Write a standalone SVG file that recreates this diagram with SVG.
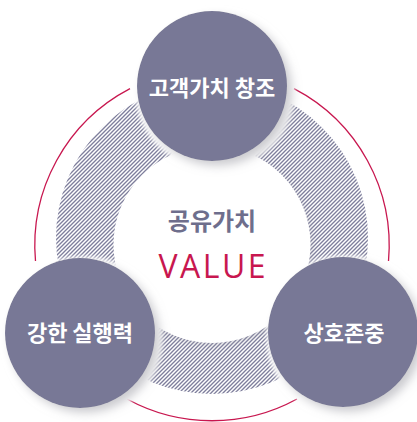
<svg xmlns="http://www.w3.org/2000/svg" width="417" height="422" viewBox="0 0 417 422">
  <defs>
    <pattern id="hatch" patternUnits="userSpaceOnUse" width="4" height="4">
      <path d="M-1,1 L1,-1 M0,4 L4,0 M3,5 L5,3" stroke="#7e7e9c" stroke-width="1.35"/>
    </pattern>
    <filter id="shadow" x="-30%" y="-30%" width="160%" height="160%">
      <feMorphology in="SourceAlpha" operator="dilate" radius="4" result="dil"/>
      <feOffset in="dil" dx="3" dy="3" result="dilOff"/>
      <feGaussianBlur in="dilOff" stdDeviation="2" result="dilBlur"/>
      <feFlood flood-color="#ffffff"/>
      <feComposite in2="dilBlur" operator="in" result="halo"/>
      <feOffset in="SourceAlpha" dx="5" dy="5" result="off"/>
      <feGaussianBlur in="off" stdDeviation="5" result="blur"/>
      <feFlood flood-color="#9a9aa4" flood-opacity="0.6"/>
      <feComposite in2="blur" operator="in" result="sh"/>
      <feMerge>
        <feMergeNode in="halo"/>
        <feMergeNode in="sh"/>
        <feMergeNode in="SourceGraphic"/>
      </feMerge>
    </filter>
    <filter id="softshadow" x="-20%" y="-20%" width="140%" height="140%">
      <feOffset in="SourceAlpha" dx="2" dy="3" result="off"/>
      <feGaussianBlur in="off" stdDeviation="3" result="blur"/>
      <feFlood flood-color="#a0a0aa" flood-opacity="0.3"/>
      <feComposite in2="blur" operator="in" result="sh"/>
      <feMerge>
        <feMergeNode in="sh"/>
        <feMergeNode in="SourceGraphic"/>
      </feMerge>
    </filter>
  </defs>
  <style>
    .ring { fill: none; stroke: #c8174f; stroke-width: 1.3; }
    .node { fill: #787896; }
    .label { font-family: "Noto Sans CJK KR", "Noto Sans", sans-serif; font-weight: 700; font-size: 22px; fill: #ffffff; text-anchor: middle; }
    .center-title { font-family: "Noto Sans CJK KR", "Noto Sans", sans-serif; font-weight: 700; font-size: 24px; fill: #6e6e8c; text-anchor: middle; }
    .value { font-family: "Open Sans", "Noto Sans", sans-serif; font-weight: 400; font-size: 32px; fill: #c8174f; text-anchor: middle; }
  </style>
  <rect width="417" height="422" fill="#ffffff"/>

  <g id="connectors">
    <path class="ring" d="M294,88.6 A177,177 0 0 1 388.5,261"/>
    <path class="ring" d="M297,399 A177,177 0 0 1 127,399"/>
    <path class="ring" d="M35.5,261 A177,177 0 0 1 130,88.6"/>
  </g>

  <g id="hatch-ring">
    <circle cx="212" cy="238" r="156" fill="url(#hatch)"/>
  </g>

  <g id="center">
    <circle cx="212" cy="244.5" r="98.5" fill="#ffffff" filter="url(#softshadow)"/>
    <text class="center-title" x="212" y="230">공유가치</text>
    <text class="value" x="212" y="278" textLength="107" lengthAdjust="spacing">VALUE</text>
  </g>

  <g id="node-top">
    <circle class="node" cx="212" cy="86" r="75" filter="url(#shadow)"/>
    <text class="label" x="212" y="96">고객가치 창조</text>
  </g>

  <g id="node-left">
    <circle class="node" cx="80" cy="333" r="75" filter="url(#shadow)"/>
    <text class="label" x="80" y="341">강한 실행력</text>
  </g>

  <g id="node-right">
    <circle class="node" cx="343" cy="332" r="75" filter="url(#shadow)"/>
    <text class="label" x="344" y="341">상호존중</text>
  </g>
</svg>
